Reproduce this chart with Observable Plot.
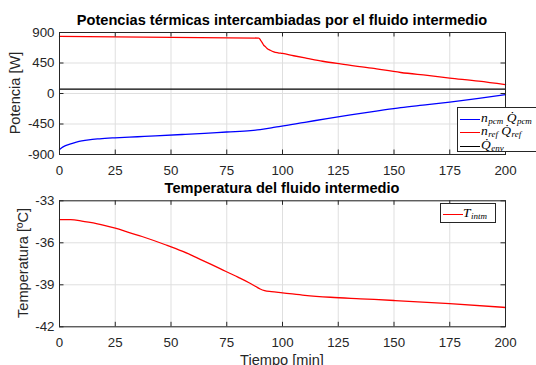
<!DOCTYPE html>
<html>
<head>
<meta charset="utf-8">
<script src="https://cdn.jsdelivr.net/npm/d3@7"></script>
<script src="https://cdn.jsdelivr.net/npm/@observablehq/plot@0.6"></script>
<style>
  html, body { margin: 0; padding: 0; background: #fff; }
  #wrap { position: relative; width: 536px; height: 365px; overflow: hidden; font-family: "Liberation Sans", Arial, sans-serif; color: #262626; }
  .svgbox { position: absolute; left: 0; }
  .title { position: absolute; font-weight: bold; font-size: 14.6px; color: #000; white-space: nowrap; transform: translateX(-50%); line-height: 1; }
  .ylab { position: absolute; font-size: 14.6px; white-space: nowrap; transform: translate(-50%, -50%) rotate(-90deg); line-height: 1; }
  .xlab { position: absolute; font-size: 14.6px; white-space: nowrap; transform: translateX(-50%); line-height: 1; }
  .legend { position: absolute; background: #fff; border: 1px solid #262626; box-sizing: border-box; }
  .lrow { position: absolute; left: 0; height: 13px; white-space: nowrap; }
  .lline { position: absolute; height: 0; border-top: 1.3px solid; }
  .ltxt { position: absolute; font-family: "Liberation Serif", "DejaVu Serif", serif; font-size: 13.5px; color: #000; line-height: 12px; height: 12px; white-space: nowrap; }
  .ltxt sub { font-size: 9px; line-height: 8px; vertical-align: baseline; position: relative; top: 2px; margin-left: 0.5px; }
</style>
</head>
<body>
<div id="wrap"></div>
<script>
// ---- data ----
const xTicks = [0, 25, 50, 75, 100, 125, 150, 175, 200];
const yTicksP = [-900, -450, 0, 450, 900];
const yTicksT = [-42, -39, -36, -33];

const tRef = [0, 89.4, 90.2, 90.9, 91.6, 92.4, 93.1, 94.5, 96.1, 98, 100, 105, 111, 118, 126, 140, 153, 165, 175, 188, 200];
const qRef = [842, 818, 785, 751, 712, 688, 664, 638, 615, 601, 591, 557, 519, 476, 436, 373, 310, 266, 228, 182, 131];

const tPcm = [0, 1, 2.7, 5, 7.2, 10, 13.1, 18, 24.8, 35, 43, 55, 65, 75, 85.7, 90, 95, 99.1, 110, 120, 130.5, 142, 153, 165, 175, 188, 200];
const qPcm = [-828, -800, -770, -742, -722, -700, -683, -668, -654, -638, -625, -605, -588, -568, -548, -533, -508, -484, -425, -370, -315, -260, -208, -165, -126, -72, -18];

const tEnv = [0, 200];
const qEnv = [65, 65];

const tTemp = [0, 5, 10, 13, 20, 25, 30, 37, 47.5, 55, 60, 72, 80, 85, 88, 90, 92, 95, 100, 110, 121.5, 135, 150, 175, 200];
const tempIntm = [-34.34, -34.35, -34.45, -34.53, -34.75, -34.96, -35.2, -35.55, -36.14, -36.6, -36.95, -37.85, -38.45, -38.85, -39.12, -39.3, -39.42, -39.49, -39.57, -39.75, -39.89, -40.0, -40.12, -40.34, -40.62];

// ---- helpers ----
const W = 536, mL = 59, mR = 31;
const innerW = W - mL - mR;
const frameCol = "#262626", gridCol = "#dfdfdf";
const tickLen = 4.5;

function zip(xs, ys) { return xs.map((x, i) => ({x, y: ys[i]})); }

function gridMarks(yTicks) {
  return [
    Plot.gridX(xTicks, {stroke: gridCol, strokeOpacity: 1}),
    Plot.gridY(yTicks, {stroke: gridCol, strokeOpacity: 1}),
  ];
}
function frameMarks(yTicks, innerH) {
  return [
    Plot.tickY(yTicks, {y: d => d, stroke: frameCol, insetRight: innerW - tickLen}),
    Plot.tickY(yTicks, {y: d => d, stroke: frameCol, insetLeft: innerW - tickLen}),
    Plot.tickX(xTicks, {x: d => d, stroke: frameCol, insetTop: innerH - tickLen}),
    Plot.tickX(xTicks, {x: d => d, stroke: frameCol, insetBottom: innerH - tickLen}),
    Plot.frame({stroke: frameCol}),
    Plot.axisX(xTicks, {tickSize: 0, tickPadding: 11, label: null, fontSize: 13.3, fill: frameCol}),
    Plot.axisY(yTicks, {tickSize: 0, tickPadding: 5, label: null, fontSize: 13.3, fill: frameCol, tickFormat: d => String(d).replace("\u2212", "-")}),
  ];
}

const wrap = document.getElementById("wrap");

// ---- top chart ----
const h1 = 180, mT1 = 32, mB1 = 26;
const p1 = Plot.plot({
  width: W, height: h1, marginLeft: mL, marginRight: mR, marginTop: mT1, marginBottom: mB1,
  style: {fontFamily: "Liberation Sans, Arial, sans-serif", fontSize: "13.3px", color: frameCol, background: "transparent"},
  x: {domain: [0, 200]},
  y: {domain: [-900, 900]},
  marks: [
    ...gridMarks(yTicksP),
    Plot.line(zip(tEnv, qEnv), {x: "x", y: "y", stroke: "#000", strokeWidth: 1.3}),
    Plot.line(zip(tRef, qRef), {x: "x", y: "y", stroke: "#ff0000", strokeWidth: 1.3, curve: "monotone-x"}),
    Plot.line(zip(tPcm, qPcm), {x: "x", y: "y", stroke: "#0000ff", strokeWidth: 1.3, curve: "monotone-x"}),
    ...frameMarks(yTicksP, h1 - mT1 - mB1),
  ]
});
p1.classList.add("svgbox");
p1.style.top = "0px";
wrap.appendChild(p1);

// ---- bottom chart ----
const top2 = 180, h2 = 185, mT2 = 20.3, mB2 = 38.7;
const p2 = Plot.plot({
  width: W, height: h2, marginLeft: mL, marginRight: mR, marginTop: mT2, marginBottom: mB2,
  style: {fontFamily: "Liberation Sans, Arial, sans-serif", fontSize: "13.3px", color: frameCol, background: "transparent"},
  x: {domain: [0, 200]},
  y: {domain: [-42, -33]},
  marks: [
    ...gridMarks(yTicksT),
    Plot.line(zip(tTemp, tempIntm), {x: "x", y: "y", stroke: "#ff0000", strokeWidth: 1.3, curve: "monotone-x"}),
    ...frameMarks(yTicksT, h2 - mT2 - mB2),
  ]
});
p2.classList.add("svgbox");
p2.style.top = top2 + "px";
wrap.appendChild(p2);

// ---- texts ----
function addDiv(cls, html, styles) {
  const d = document.createElement("div");
  d.className = cls;
  d.innerHTML = html;
  Object.assign(d.style, styles);
  wrap.appendChild(d);
  return d;
}
const cx = mL + innerW / 2;
addDiv("title", "Potencias térmicas intercambiadas por el fluido intermedio", {left: cx + "px", top: "13px"});
addDiv("title", "Temperatura del fluido intermedio", {left: cx + "px", top: "181px"});
addDiv("ylab", "Potencia [W]", {left: "15px", top: "93px"});
addDiv("ylab", "Temperatura [ºC]", {left: "23px", top: "263px"});
addDiv("xlab", "Tiempo [min]", {left: cx + "px", top: "353px"});

// ---- legends ----
const qdot = "Q\u0307";
const legTop = [
  {color: "#0000ff", html: `<i>n</i><sub><i>pcm</i></sub>&nbsp;<i>${qdot}</i><sub><i>pcm</i></sub>`},
  {color: "#ff0000", html: `<i>n</i><sub><i>ref</i></sub>&nbsp;<i>${qdot}</i><sub><i>ref</i></sub>`},
  {color: "#000000", html: `<i>${qdot}</i><sub><i>env</i></sub>`},
];
const lg1 = addDiv("legend", "", {left: "457px", top: "106.5px", width: "110px", height: "45px"});
legTop.forEach((e, i) => {
  const row = document.createElement("div");
  row.className = "lrow";
  row.style.top = (4 + i * 13.6) + "px";
  row.innerHTML = `<div class="lline" style="left:2px;width:20px;top:7px;border-color:${e.color}"></div><div class="ltxt" style="left:23px;top:0px">${e.html}</div>`;
  lg1.appendChild(row);
});
const lg2 = addDiv("legend", "", {left: "440px", top: "203px", width: "55.5px", height: "19.5px"});
const row2 = document.createElement("div");
row2.className = "lrow";
row2.style.top = "3px";
row2.innerHTML = `<div class="lline" style="left:2px;width:20px;top:7px;border-color:#ff0000"></div><div class="ltxt" style="left:22px;top:0px"><i>T</i><sub><i>intm</i></sub></div>`;
lg2.appendChild(row2);
</script>
</body>
</html>
